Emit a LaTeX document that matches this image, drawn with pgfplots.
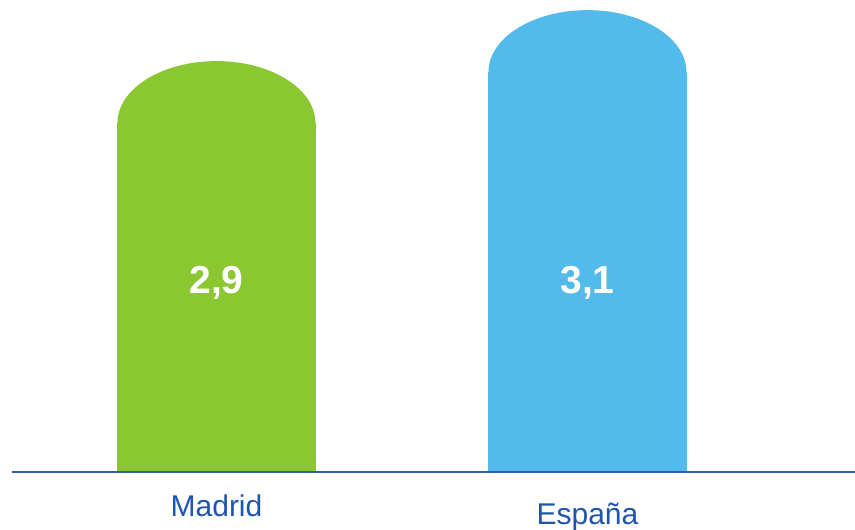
\documentclass[border=0pt]{standalone}
\usepackage{pgfplots}
\pgfplotsset{compat=1.18}
\usepackage{fontspec}
\setmainfont{Liberation Sans}
\definecolor{bgreen}{HTML}{8AC731}
\definecolor{bblue}{HTML}{53BBEB}
\definecolor{tblue}{HTML}{1F55B0}
\definecolor{lblue}{HTML}{2E5EA8}
\pgfdeclareplotmark{capmark}{%
  \pgfpathmoveto{\pgfpoint{-99pt}{-1.5pt}}%
  \pgfpathlineto{\pgfpoint{-99pt}{0pt}}%
  \pgfpatharc{180}{0}{99pt and 62pt}%
  \pgfpathlineto{\pgfpoint{99pt}{-1.5pt}}%
  \pgfpathclose
  \pgfusepathqfill}
\begin{document}
\begin{tikzpicture}[x=1pt,y=1pt]
\useasboundingbox (0,0) rectangle (855,530);
\begin{axis}[
  at={(12pt,58pt)}, anchor=south west,
  scale only axis, width=843pt, height=472pt,
  xmin=-0.551, xmax=1.721, ymin=1.531, ymax=3.383,
  hide axis,
]
\addplot[ybar, bar width=0.534, bar shift=0pt, fill=bgreen, draw=none] coordinates {(0,2.9)};
\addplot[ybar, bar width=0.534, bar shift=0pt, fill=bblue, draw=none] coordinates {(1,3.1)};
\addplot[only marks, mark=capmark, color=bgreen, fill=bgreen] coordinates {(0,2.9)};
\addplot[only marks, mark=capmark, color=bblue, fill=bblue] coordinates {(1,3.1)};
\node[anchor=base, text=white, font=\fontsize{39}{44}\selectfont\bfseries] at (axis cs:0,2.23) {2,9};
\node[anchor=base, text=white, font=\fontsize{39}{44}\selectfont\bfseries] at (axis cs:1,2.23) {3,1};
\end{axis}
\draw[lblue, line width=2pt] (12,58) -- (855,58);
\node[anchor=base, text=tblue, font=\fontsize{30}{36}\selectfont] at (216.5,13) {Madrid};
\node[anchor=base, text=tblue, font=\fontsize{30}{36}\selectfont] at (587.5,5) {España};
\end{tikzpicture}
\end{document}
